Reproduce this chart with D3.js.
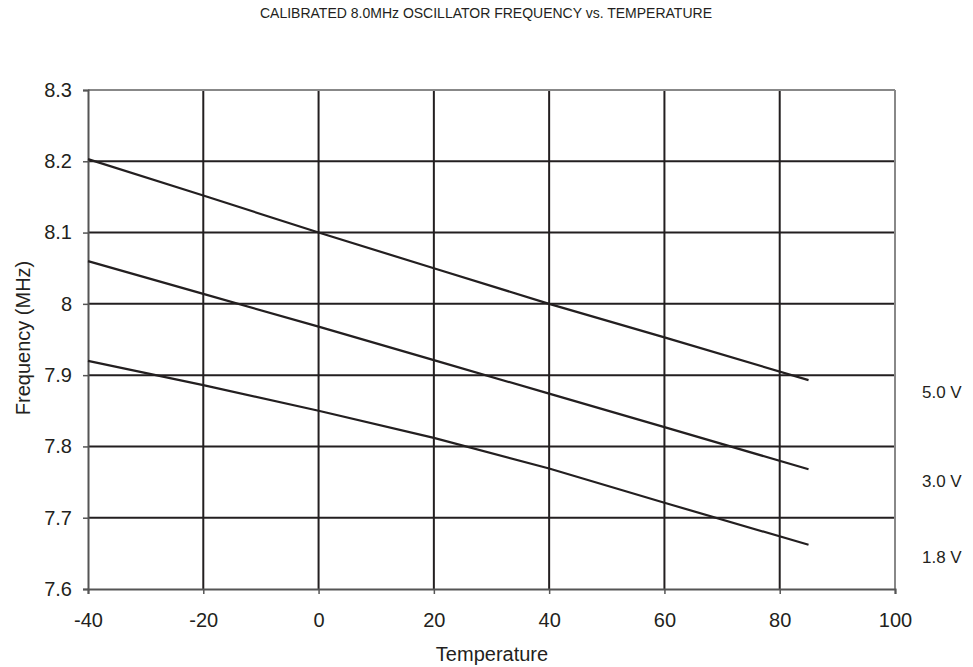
<!DOCTYPE html>
<html><head><meta charset="utf-8">
<script src="https://cdn.jsdelivr.net/npm/d3@7"></script>
<style>body{margin:0;background:#fff;}svg{display:block;font-family:"Liberation Sans",Arial,sans-serif;}</style>
</head><body>
<svg id="c" width="973" height="667"></svg>
<script>
const temps = [-40, -20, 0, 20, 40, 60, 85];
const v50 = [8.203, 8.152, 8.100, 8.050, 8.000, 7.953, 7.893];
const v30 = [8.060, 8.014, 7.968, 7.921, 7.874, 7.827, 7.768];
const v18 = [7.920, 7.886, 7.850, 7.812, 7.769, 7.721, 7.662];
const seriesNames = ["5.0 V", "3.0 V", "1.8 V"];
const xTicks = [-40, -20, 0, 20, 40, 60, 80, 100];
const yTicks = [7.6, 7.7, 7.8, 7.9, 8.0, 8.1, 8.2, 8.3];
const yTickLabels = ["7.6", "7.7", "7.8", "7.9", "8", "8.1", "8.2", "8.3"];

const svg = d3.select("#c");
const L = 88, R = 895, T = 90, B = 589;
const x = d3.scaleLinear().domain([-40, 100]).range([L, R]);
const y = d3.scaleLinear().domain([7.6, 8.3]).range([B, T]);

// gridlines
svg.append("g").selectAll("line").data(xTicks.slice(1, -1)).join("line")
  .attr("x1", d => x(d)).attr("x2", d => x(d)).attr("y1", T).attr("y2", B)
  .attr("stroke", "#231f20").attr("stroke-width", 2);
svg.append("g").selectAll("line").data(yTicks.slice(1, -1)).join("line")
  .attr("x1", L).attr("x2", R).attr("y1", d => y(d)).attr("y2", d => y(d))
  .attr("stroke", "#231f20").attr("stroke-width", 2);

// frame top/right grey
svg.append("line").attr("x1", L).attr("x2", R).attr("y1", T).attr("y2", T).attr("stroke", "#888").attr("stroke-width", 2);
svg.append("line").attr("x1", R).attr("x2", R).attr("y1", T).attr("y2", B).attr("stroke", "#888").attr("stroke-width", 2);

// axes
const xAxis = svg.append("g").attr("transform", `translate(0,${B})`)
  .call(d3.axisBottom(x).tickValues(xTicks).tickSize(5).tickPadding(19).tickFormat(d => String(d)));
const yAxis = svg.append("g").attr("transform", `translate(${L},0)`)
  .call(d3.axisLeft(y).tickValues(yTicks).tickSize(5).tickPadding(11).tickFormat((d, i) => yTickLabels[i]));
[xAxis, yAxis].forEach(g => {
  g.select(".domain").attr("stroke", "#555").attr("stroke-width", 2);
  g.selectAll(".tick line").attr("stroke", "#555").attr("stroke-width", 1.5);
  g.selectAll("text").attr("font-size", 20).attr("fill", "#231f20").attr("font-family", "Liberation Sans, Arial, sans-serif");
});

// series
const line = d3.line().x((d, i) => x(temps[i])).y(d => y(d));
[v50, v30, v18].forEach(s => {
  svg.append("path").attr("d", line(s)).attr("fill", "none")
    .attr("stroke", "#231f20").attr("stroke-width", 2.2);
});

// right labels
const labY = [392.5, 481, 557.5];
seriesNames.forEach((n, i) => {
  svg.append("text").attr("x", 922).attr("y", labY[i]).attr("dy", "0.35em")
    .attr("font-size", 17).attr("fill", "#231f20").text(n);
});

// title
svg.append("text").attr("x", 486).attr("y", 18).attr("text-anchor", "middle")
  .attr("font-size", 14).attr("fill", "#231f20").text("CALIBRATED 8.0MHz OSCILLATOR FREQUENCY vs. TEMPERATURE");
// axis titles
svg.append("text").attr("x", 492).attr("y", 661).attr("text-anchor", "middle")
  .attr("font-size", 20).attr("fill", "#231f20").text("Temperature");
svg.append("text").attr("transform", "translate(30,338) rotate(-90)").attr("text-anchor", "middle")
  .attr("font-size", 20).attr("fill", "#231f20").text("Frequency (MHz)");
</script>
</body></html>
